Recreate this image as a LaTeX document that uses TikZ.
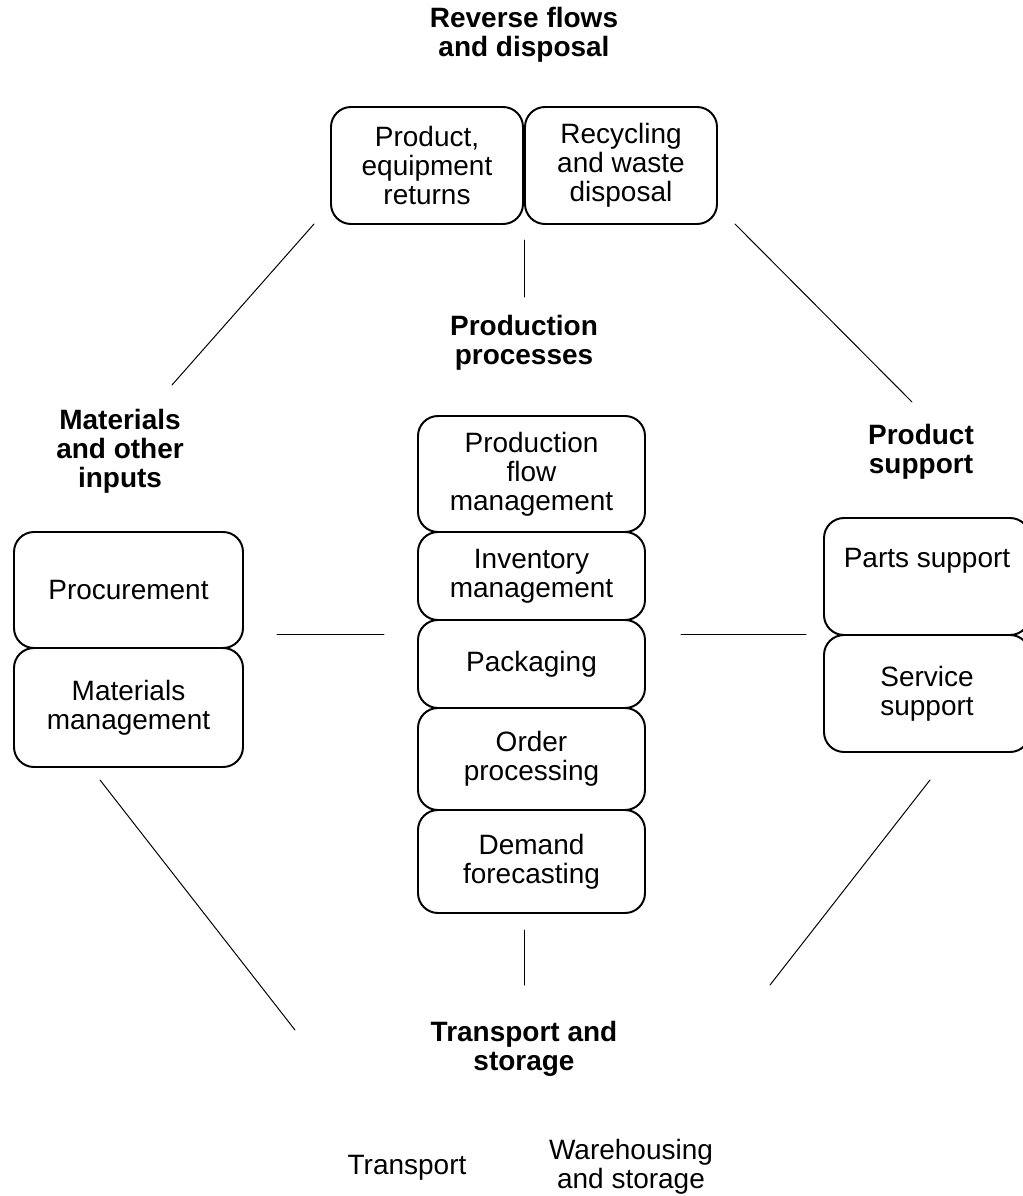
\documentclass[tikz,border=0pt]{standalone}
\usepackage{fontspec}
\setmainfont{Liberation Sans}
\begin{document}
\begin{tikzpicture}[x=0.025cm, y=-0.025cm, line join=round, line cap=round,
        font=\fontsize{19.9}{20.6}\selectfont,
        box/.style={draw, line width=1.4pt, rounded corners=0.5cm, align=center, inner sep=0pt},
        head/.style={align=center, font=\fontsize{19.9}{20.6}\selectfont\bfseries},
        link/.style={line width=0.7pt}]
                \def \px{0.025cm} % one unit of the grid
                \useasboundingbox (0,0) rectangle (1023,1196);
                % headings of the five groups
                \node[head] (rev) at (524,35) {Reverse flows\\and disposal};
                \node[head] (prodh) at (524,343) {Production\\processes};
                \node[head] (mats) at (120,451) {Materials\\and other\\inputs};
                \node[head] (supp) at (921,451.5) {Product\\support};
                \node[head] (transh) at (524,1048.5) {Transport and\\storage};
                % reverse flows
                \node[box, minimum width=192*\px, minimum height=117*\px] (ret) at (427,165.5) {Product,\\equipment\\returns};
                \node[box, minimum width=192*\px, minimum height=117*\px] (rec) at (621,165.5) {Recycling\\and waste\\disposal};
                % production column
                \node[box, minimum width=227*\px, minimum height=116*\px] (flow) at (531.5,474) {Production\\flow\\management};
                \node[box, minimum width=227*\px, minimum height=88*\px] (inv) at (531.5,576) {Inventory\\management};
                \node[box, minimum width=227*\px, minimum height=88*\px] (pack) at (531.5,664) {Packaging};
                \node[box, minimum width=227*\px, minimum height=102*\px] (ord) at (531.5,759) {Order\\processing};
                \node[box, minimum width=227*\px, minimum height=103*\px] (dem) at (531.5,861.5) {Demand\\forecasting};
                % materials
                \node[box, minimum width=229*\px, minimum height=116*\px] (proc) at (128.5,590) {Procurement};
                \node[box, minimum width=229*\px, minimum height=119*\px] (mat) at (128.5,707.5) {Materials\\management};
                % product support
                \node[box, minimum width=206*\px, minimum height=117*\px] (parts) at (927,576.5) {Parts support\\\strut};
                \node[box, minimum width=206*\px, minimum height=117*\px] (serv) at (927,693.5) {Service\\support};
                % transport and storage
                \node (trans) at (407,1168) {Transport};
                \node[align=center] (ware) at (631,1167) {Warehousing\\and storage};
                % connecting lines
                \coordinate (t1) at (524,240);   \coordinate (t2) at (524,297);
                \coordinate (b1) at (524,930);   \coordinate (b2) at (524,985);
                \coordinate (l1) at (277,634);   \coordinate (l2) at (384,634);
                \coordinate (r1) at (681,634);   \coordinate (r2) at (806,634);
                \coordinate (nw1) at (172,385);  \coordinate (nw2) at (314,224);
                \coordinate (ne1) at (735,224);  \coordinate (ne2) at (912,402);
                \coordinate (sw1) at (100,780);  \coordinate (sw2) at (295,1030);
                \coordinate (se1) at (930,780);  \coordinate (se2) at (770,985);
                \foreach \a/\b in {t1/t2,b1/b2,l1/l2,r1/r2,nw1/nw2,ne1/ne2,sw1/sw2,se1/se2}
                    \draw[link] (\a)--(\b);
\end{tikzpicture}
\end{document}
